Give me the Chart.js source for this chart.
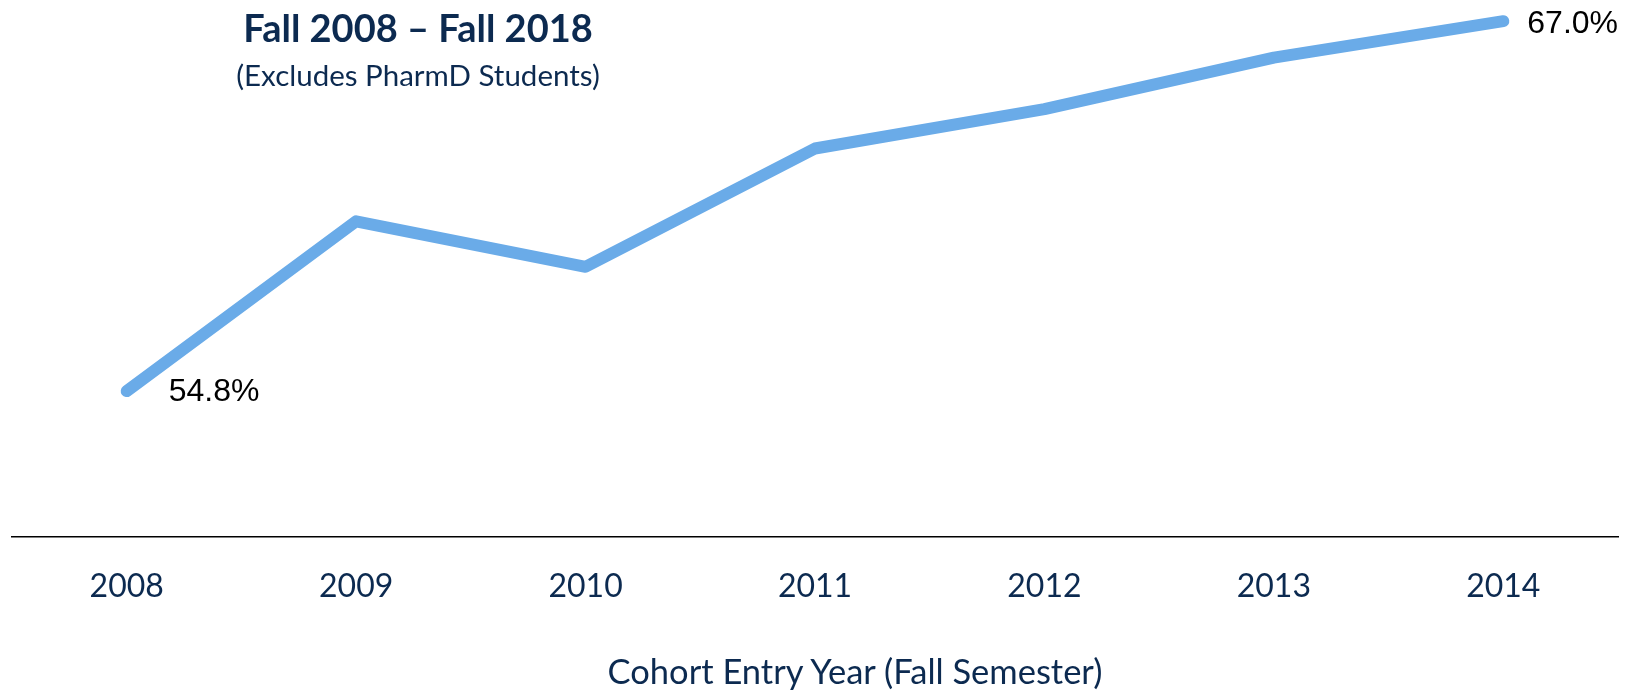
<!DOCTYPE html>
<html lang="en">
<head>
    <meta charset="UTF-8">
    <title>Cohort Entry Year</title>
    <script src="https://cdn.jsdelivr.net/npm/chart.js"></script>
    <style>
        body { margin: 0; background: #fff; }
        #wrap { position: relative; width: 1626px; height: 692px; }
        .texto {
            position: absolute; transform: translateX(-50%);
            font-family: Lato, "Open Sans", sans-serif; color: #0c2a50;
            white-space: nowrap; text-align: center; line-height: 1.2;
        }
        #t1 { left: 418px; top: 5px; font-size: 38px; font-weight: bold; }
        #t2 { left: 418px; top: 57px; font-size: 29.5px; }
        #eixo { left: 855px; top: 650px; font-size: 34.5px; }
    </style>
</head>
<body>
    <div id="wrap">
        <canvas id="grafico"></canvas>
        <div class="texto" id="t1">Fall 2008 – Fall 2018</div>
        <div class="texto" id="t2">(Excludes PharmD Students)</div>
        <div class="texto" id="eixo">Cohort Entry Year (Fall Semester)</div>
    </div>

    <script>
        const anos = ['2008', '2009', '2010', '2011', '2012', '2013', '2014'];
        const taxas = [54.8, 60.4, 58.9, 62.8, 64.1, 65.8, 67.0];

        // rótulos só no primeiro e no último ponto
        const rotulos = {
            id: 'rotulos',
            afterDatasetsDraw(chart) {
                const ctx = chart.ctx;
                const pts = chart.getDatasetMeta(0).data;
                ctx.save();
                ctx.font = '32px "Liberation Sans", Arial, sans-serif';
                ctx.fillStyle = '#000';
                ctx.textBaseline = 'middle';
                ctx.fillText(taxas[0].toFixed(1) + '%', pts[0].x + 42, pts[0].y + 1);
                const u = pts.length - 1;
                ctx.fillText(taxas[u].toFixed(1) + '%', pts[u].x + 24, pts[u].y + 3);
                ctx.restore();
            }
        };

        new Chart(document.getElementById('grafico'), {
            type: 'line',
            data: {
                labels: anos,
                datasets: [{
                    data: taxas,
                    borderColor: '#6aabe8',
                    borderWidth: 12,
                    borderCapStyle: 'round',
                    borderJoinStyle: 'round',
                    pointRadius: 0,
                    tension: 0,
                    clip: false
                }]
            },
            options: {
                responsive: true,
                maintainAspectRatio: false,
                animation: false,
                layout: { padding: { left: 12, right: 8, top: 3, bottom: 55 } },
                plugins: {
                    legend: { display: false },
                    tooltip: { enabled: false }
                },
                scales: {
                    x: {
                        offset: true,
                        grid: { display: false, drawTicks: false },
                        border: { display: true, color: '#000', width: 1.5 },
                        ticks: {
                            padding: 31,
                            color: '#0c2a50',
                            font: { family: 'Lato, "Open Sans", sans-serif', size: 32 }
                        }
                    },
                    y: {
                        display: false,
                        min: 50,
                        max: 67.6
                    }
                }
            },
            plugins: [rotulos]
        });
    </script>
</body>
</html>
